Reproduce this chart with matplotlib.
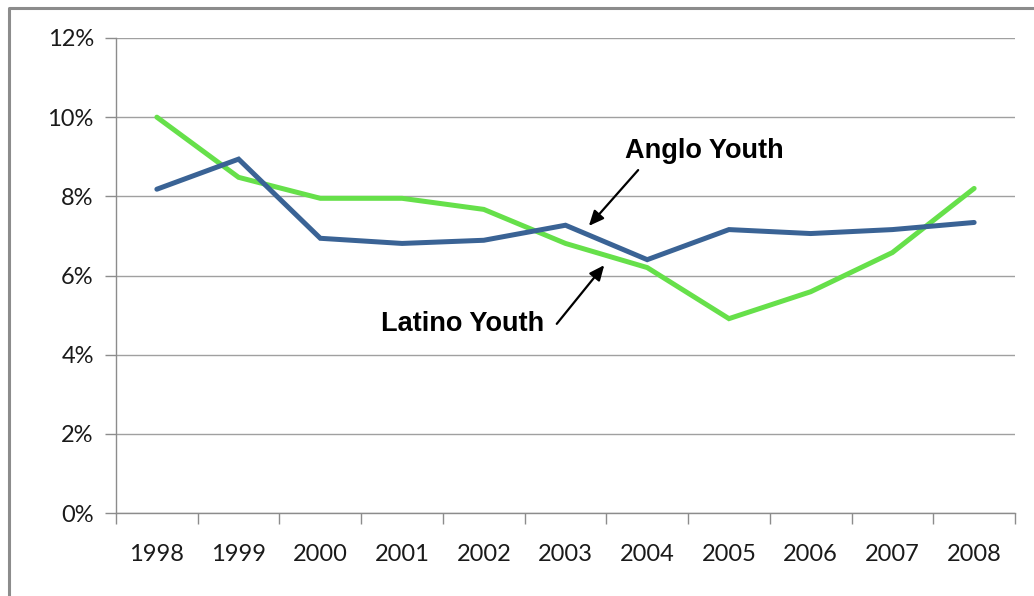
import matplotlib
matplotlib.use("Agg")
import matplotlib.pyplot as plt
from matplotlib.lines import Line2D
import numpy as np

years = ["1998", "1999", "2000", "2001", "2002", "2003", "2004", "2005", "2006", "2007", "2008"]
anglo = [8.18, 8.94, 6.94, 6.81, 6.89, 7.27, 6.40, 7.16, 7.06, 7.16, 7.34]
latino = [10.0, 8.48, 7.95, 7.95, 7.67, 6.81, 6.20, 4.91, 5.59, 6.58, 8.20]
yticks = [0, 2, 4, 6, 8, 10, 12]

W, H = 1034, 596
fig = plt.figure(figsize=(W / 100, H / 100), dpi=100)
ax = fig.add_axes([116 / W, 1 - 513 / H, (1015 - 116) / W, (513 - 38) / H])

x = np.arange(len(years))
ax.plot(x, latino, color="#66E04A", lw=3.6, solid_capstyle="round", solid_joinstyle="miter", zorder=3)
ax.plot(x, anglo, color="#3A6395", lw=3.6, solid_capstyle="round", solid_joinstyle="miter", zorder=4)

ax.set_xlim(-0.5, len(years) - 0.5)
ax.set_ylim(0, 12)
ax.set_yticks(yticks)
ax.set_yticklabels([f"{v}%" for v in yticks])
ax.set_xticks(x)
ax.set_xticklabels(years)
ax.set_xticks(np.arange(-0.5, len(years)), minor=True)
ax.tick_params(axis="x", which="major", length=0, pad=22)
ax.tick_params(axis="x", which="minor", length=8, color="#8C8C8C", width=1)
ax.tick_params(axis="y", length=8, color="#8C8C8C", width=1, pad=8)
for lab in ax.get_xticklabels() + ax.get_yticklabels():
    lab.set_fontfamily("Lato")
    lab.set_fontsize(17)
    lab.set_color("#1A1A1A")

ax.grid(axis="y", color="#A0A0A0", lw=1)
ax.set_axisbelow(True)
for s in ["top", "right"]:
    ax.spines[s].set_visible(False)
ax.spines["left"].set_color("#8C8C8C")
ax.spines["bottom"].set_color("#8C8C8C")
ax.spines["left"].set_linewidth(1)
ax.spines["bottom"].set_linewidth(1)

def px(xp, yp):
    return (xp / W, 1 - yp / H)

ax.annotate("", xy=px(587, 228), xytext=px(640, 168), xycoords="figure fraction",
            textcoords="figure fraction",
            arrowprops=dict(arrowstyle="-|>,head_length=0.9,head_width=0.4", color="black", lw=1.6))
ax.annotate("", xy=px(606, 263), xytext=px(555, 326), xycoords="figure fraction",
            textcoords="figure fraction",
            arrowprops=dict(arrowstyle="-|>,head_length=0.9,head_width=0.4", color="black", lw=1.6))
fig.text(*px(704, 151), "Anglo Youth", family="Liberation Sans", weight="bold", fontsize=19.5,
         ha="center", va="center")
fig.text(*px(463, 324), "Latino Youth", family="Liberation Sans", weight="bold", fontsize=19.5,
         ha="center", va="center")

# outer chart frame
fig.add_artist(Line2D([9 / W, 9 / W, 1], [0, 1 - 8 / H, 1 - 8 / H], color="#8C8C8C", lw=2.2,
                      transform=fig.transFigure))

fig.savefig("out.png", dpi=100)
